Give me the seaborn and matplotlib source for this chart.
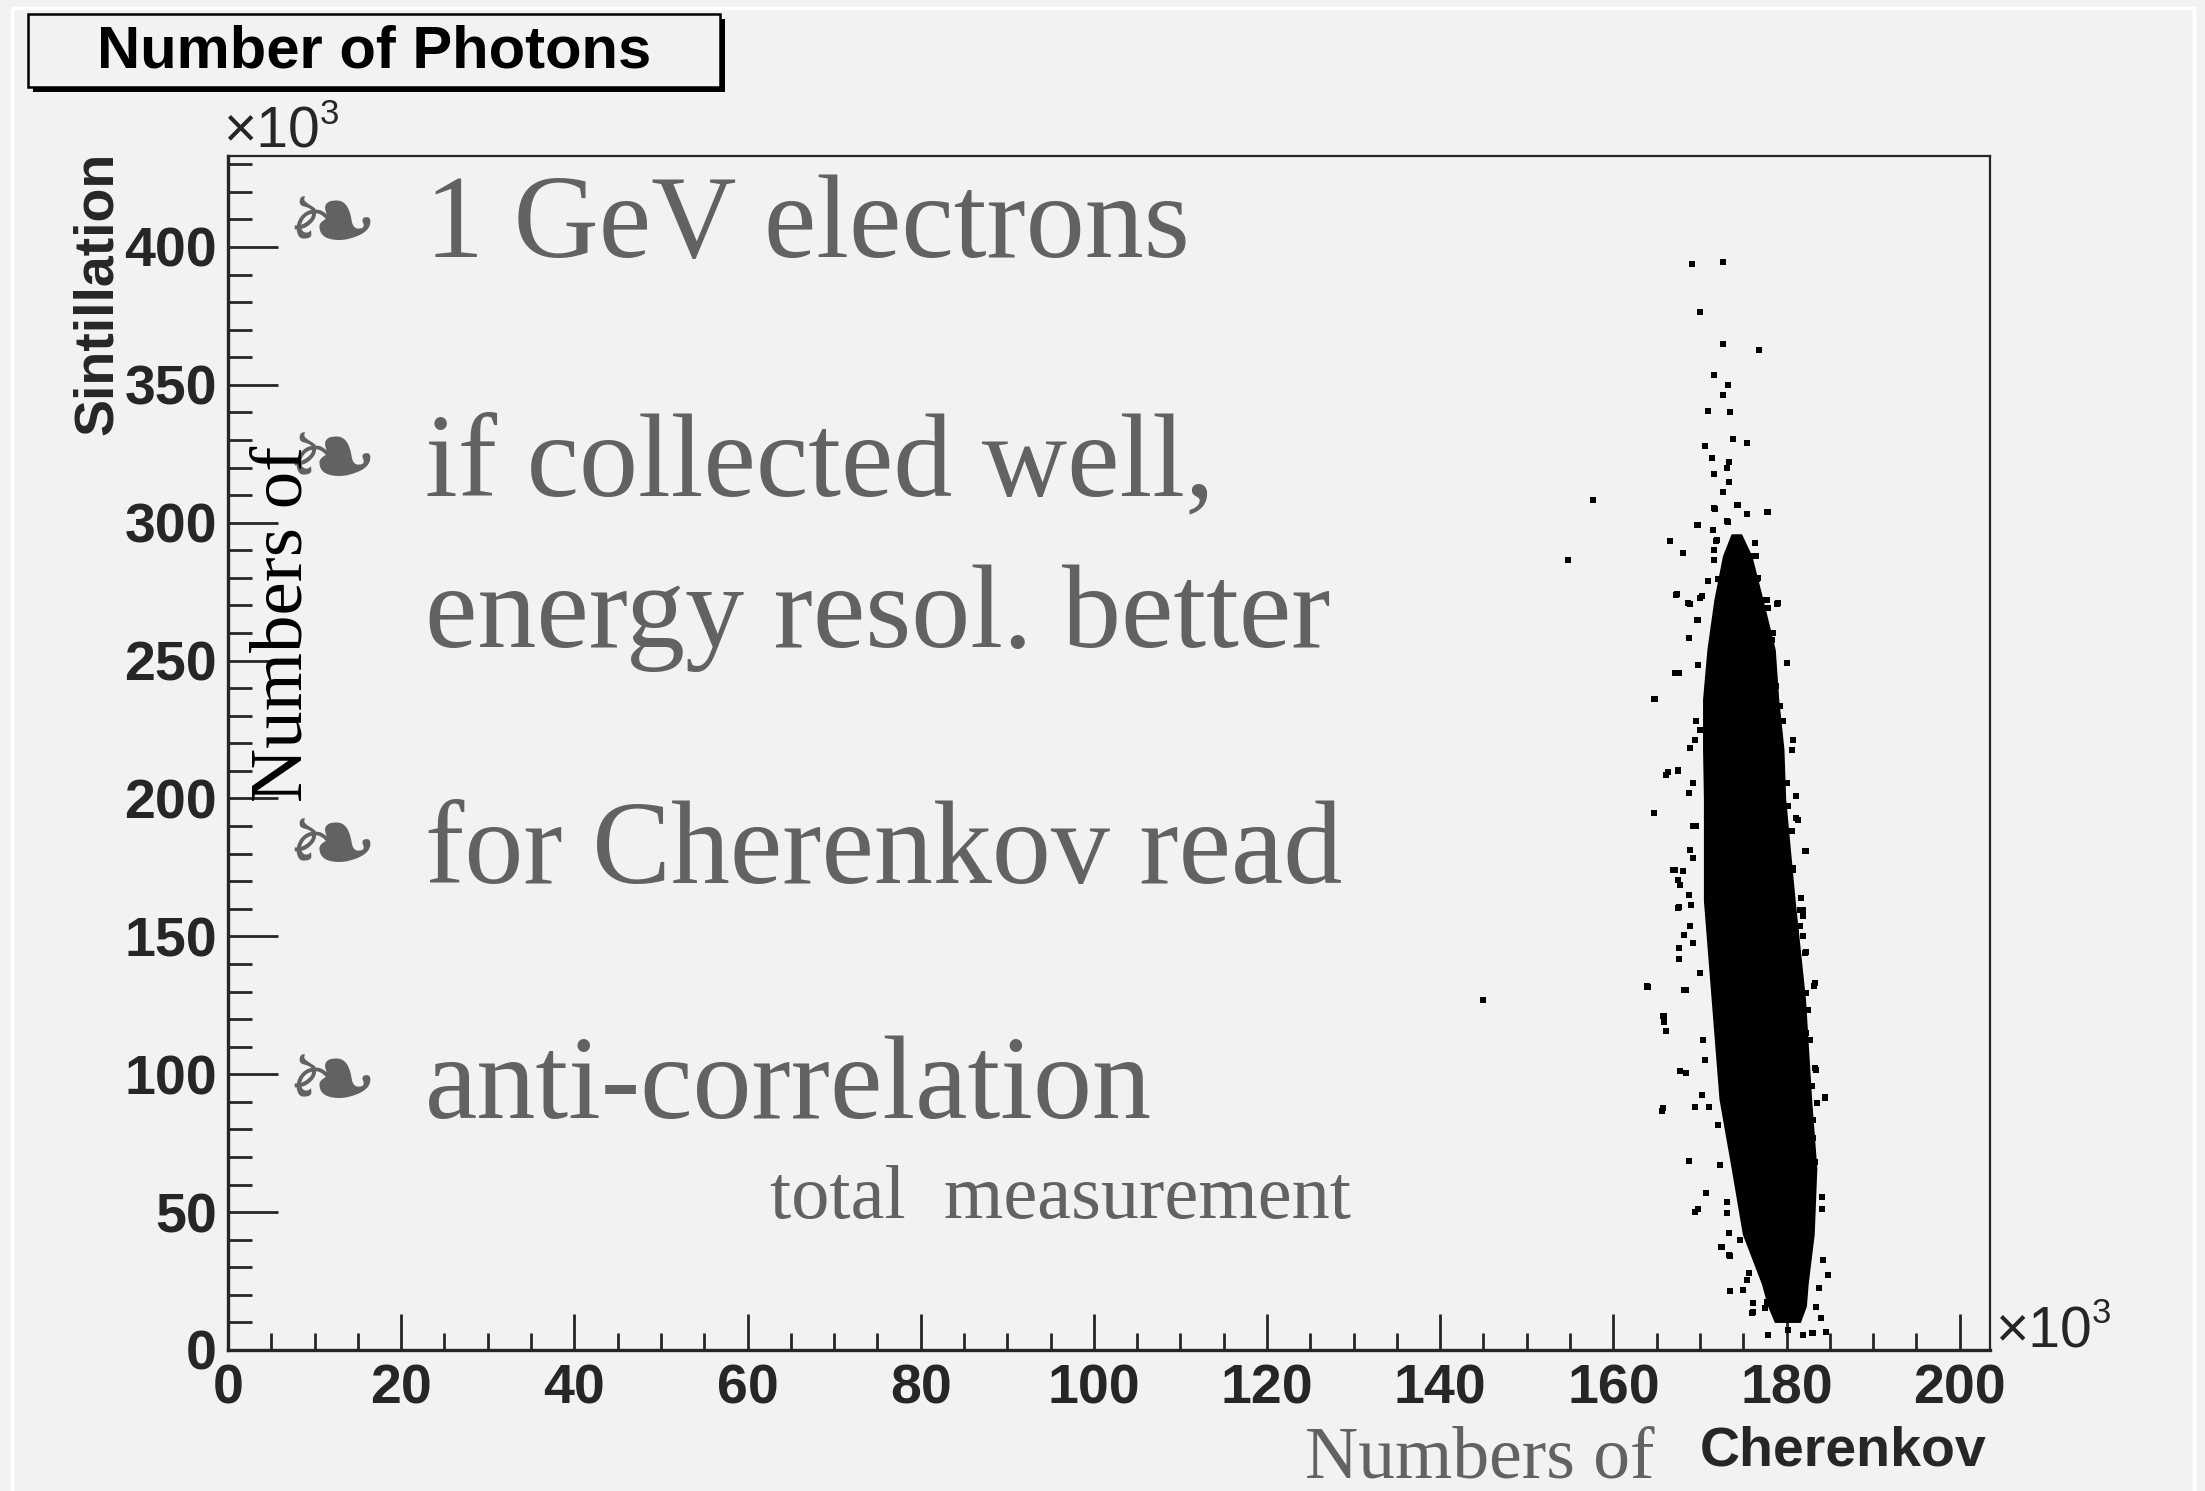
import matplotlib
matplotlib.use("Agg")
import matplotlib.pyplot as plt
import seaborn as sns
from matplotlib.patches import Rectangle
from matplotlib.lines import Line2D
from matplotlib.ticker import MultipleLocator

# ---------------------------------------------------------------- data
# photon counts per event, in units of 10^3
title = "Number of Photons"
x_title = "Cherenkov"
y_title = "Sintillation"
x_ticks = [0, 20, 40, 60, 80, 100, 120, 140, 160, 180, 200]
y_ticks = [0, 50, 100, 150, 200, 250, 300, 350, 400]
x_range = (0, 203.5)
y_range = (0, 433)

# dense core of the event distribution: sintillation level and cherenkov extent
core_sint = [10, 16, 24, 42, 66, 91, 127, 163, 200, 218, 236, 254, 272, 288, 296]
core_cher_low = [178.6, 177.8, 177.1, 174.9, 173.6, 172.2, 171.3, 170.4, 170.4,
                 170.3, 170.3, 170.8, 171.6, 172.6, 173.6]
core_cher_high = [181.6, 182.3, 182.5, 183.2, 183.5, 182.9, 182.2, 181.0, 179.9,
                  179.7, 179.1, 178.7, 177.3, 176.0, 174.8]

# individual events around the core
event_cher = [
    # upper tail and far outliers
    169.1, 172.7, 170.0, 172.7, 176.8, 171.6, 173.2, 172.7, 170.9, 173.5,
    173.8, 175.4, 170.6, 171.4, 173.4, 173.1, 171.6, 173.3, 172.7, 157.7,
    174.4, 171.6, 175.4, 177.8, 169.7, 171.5, 173.2, 166.5, 171.9, 176.4,
    168.0, 171.6, 173.5, 154.8, 171.6, 167.3, 164.8, 168.7, 169.7, 167.1,
    145.0, 163.9, 165.9, 165.6, 167.7, 169.8, 166.3,
    # upper part of the core
    174.3, 171.7, 175.4, 177.9, 169.8, 173.1, 171.5, 172.0, 176.4, 168.1,
    173.5, 176.1, 173.6, 175.7, 170.9, 172.1, 173.7, 176.6, 167.2, 172.5,
    170.2, 168.8, 175.8, 177.6, 178.9, 169.8, 177.9, 168.7, 178.4, 178.3,
    169.8, 167.6, 180.0, 177.9, 164.7, 178.8, 179.2, 179.6, 180.8, 180.6,
    168.8, 167.5, 166.1, 168.7, 181.1, 180.0, 169.4, 170.0, 169.2,
    168.6, 170.0, 177.7, 179.0, 176.5, 176.7, 175.7, 170.9, 169.6, 176.9,
    # middle of the core
    164.7, 169.6, 168.8, 169.2, 166.9, 168.0, 167.5, 167.7, 168.7, 167.6,
    169.0, 168.8, 168.2, 169.2, 167.6, 167.6, 163.9, 168.4, 170.0, 165.7,
    166.1, 168.4, 170.4, 170.6, 170.2, 180.2, 181.1, 180.6, 182.1, 180.0,
    180.8, 180.2, 181.7, 181.5, 181.9, 181.5, 181.9, 182.1, 181.3, 183.3,
    182.3, 182.5, 182.3, 182.7, 183.3, 182.9, 184.4, 180.8, 181.1,
    166.1, 167.5, 169.2, 167.1, 167.5, 164.0, 168.2, 165.8, 168.4, 169.4,
    182.2, 181.3, 180.7, 182.3, 183.2, 183.4, 184.5, 181.9,
    # lower part of the core
    165.7, 169.4, 171.1, 168.7, 170.7, 169.4, 173.1, 173.1, 172.5, 173.4,
    173.5, 175.0, 175.4, 176.1, 177.5, 177.9, 180.2, 181.9, 182.9, 184.6,
    184.0, 183.4, 183.8, 184.8, 184.2, 184.1, 184.1, 183.3, 183.1, 183.1,
    183.5, 172.3, 172.1, 173.4, 175.7, 174.6, 176.1, 183.1, 184.6,
    170.7, 172.4, 173.5, 176.0, 177.7, 179.2, 180.7,
]
event_sint = [
    393.7, 394.4, 376.3, 364.7, 362.5, 353.4, 349.8, 346.5, 340.7, 340.0,
    330.5, 329.0, 328.0, 323.6, 322.0, 320.0, 317.8, 314.6, 311.0, 308.4,
    306.6, 305.2, 303.0, 304.0, 299.3, 297.5, 300.4, 293.5, 293.5, 292.5,
    289.2, 290.0, 289.5, 286.6, 286.6, 274.0, 236.2, 258.3, 264.9, 245.6,
    127.0, 131.7, 119.0, 86.7, 101.0, 51.0, 209.7,
    306.6, 305.0, 303.0, 303.8, 299.3, 300.5, 297.3, 293.6, 292.7, 289.0,
    289.3, 287.8, 284.8, 283.2, 278.8, 279.6, 280.0, 279.7, 273.9, 275.7,
    273.3, 270.7, 273.3, 271.9, 270.7, 264.9, 269.1, 258.2, 260.0, 257.6,
    248.5, 245.5, 249.1, 245.5, 236.1, 240.7, 233.4, 228.0, 221.3, 217.7,
    218.3, 210.4, 208.6, 202.0, 201.0, 205.6, 221.3, 225.0, 205.6,
    271.0, 272.7, 272.1, 270.9, 287.8, 280.0, 283.4, 278.8, 228.0, 263.7,
    194.8, 189.9, 181.5, 178.4, 174.2, 173.6, 170.6, 168.8, 165.1, 160.7,
    161.5, 153.6, 150.6, 147.6, 145.8, 141.8, 131.9, 130.4, 136.7, 121.2,
    115.8, 100.4, 112.5, 105.3, 92.6, 197.2, 193.0, 188.1, 180.9, 182.7,
    174.2, 170.6, 163.9, 159.7, 157.3, 153.6, 150.0, 144.0, 141.5, 133.1,
    129.5, 123.4, 114.9, 112.5, 102.2, 95.6, 91.9, 131.9, 151.2,
    208.6, 209.8, 190.0, 174.0, 160.2, 131.5, 130.4, 121.3, 100.6, 88.0,
    180.8, 192.3, 174.7, 144.2, 132.0, 101.7, 91.5, 159.4,
    87.7, 88.0, 88.3, 68.7, 57.1, 50.2, 53.8, 49.6, 37.5, 34.5,
    21.5, 21.8, 25.4, 13.9, 15.1, 5.4, 7.3, 5.4, 6.0, 6.6,
    11.5, 15.7, 22.4, 27.2, 32.7, 51.0, 55.6, 68.3, 76.8, 83.4,
    89.5, 67.1, 81.6, 42.3, 27.8, 39.9, 16.9, 6.3, 6.7,
    57.1, 37.3, 34.2, 13.3, 17.4, 15.9, 11.3,
]

bullet_lines = ["1 GeV electrons", "if collected well,", "energy resol. better",
                "for Cherenkov read", "anti-correlation"]
note_line = "total  measurement"
side_words = "Numbers of"
scale_mark = "\u00d710"
scale_power = "3"
bullet_glyph = "\u2767"

# ---------------------------------------------------------------- style
W, H = 2205, 1491
BG = "#f2f2f2"
GREY_TEXT = "#626262"

sns.set_style("ticks")
plt.rcParams["font.family"] = ["Liberation Sans", "DejaVu Sans"]
plt.rcParams["font.weight"] = "bold"
plt.rcParams["figure.facecolor"] = BG
plt.rcParams["axes.facecolor"] = BG

fig = plt.figure(figsize=(W / 100, H / 100), dpi=100)


def fpos(x, y):
    """Figure fraction from pixel position measured from the top-left."""
    return x / W, 1 - y / H


ax_left, ax_right, ax_top, ax_bottom = 228, 1990, 156, 1350
ax = fig.add_axes([ax_left / W, 1 - ax_bottom / H,
                   (ax_right - ax_left) / W, (ax_bottom - ax_top) / H])

# dense core
ax.fill_betweenx(core_sint, core_cher_low, core_cher_high, color="black", lw=0, zorder=3)
# individual events
sns.scatterplot(x=event_cher, y=event_sint, marker="s", s=24, color="black",
                linewidth=0, ax=ax, zorder=4)

ax.set_xlim(*x_range)
ax.set_ylim(*y_range)
ax.set_xticks(x_ticks)
ax.set_yticks(y_ticks)
ax.xaxis.set_minor_locator(MultipleLocator(5))
ax.yaxis.set_minor_locator(MultipleLocator(10))
ax.set_xticklabels([str(v) for v in x_ticks])
ax.set_yticklabels([str(v) for v in y_ticks])
ax.tick_params(axis="both", which="both", direction="in", width=2.0,
               top=False, right=False, labelsize=40)
ax.tick_params(axis="x", which="major", length=26, pad=10)
ax.tick_params(axis="x", which="minor", length=12)
ax.tick_params(axis="y", which="major", length=36, pad=8)
ax.tick_params(axis="y", which="minor", length=17)
for lab in ax.get_xticklabels() + ax.get_yticklabels():
    lab.set_fontweight("bold")
ax.set_xlabel("")
ax.set_ylabel("")
for side in ("left", "bottom"):
    ax.spines[side].set_linewidth(2.4)
for side in ("top", "right"):
    ax.spines[side].set_linewidth(1.6)

# ---------------------------------------------------------------- canvas decorations
# canvas border
fig.add_artist(Line2D([12 / W, 12 / W], [0, 1 - 8 / H], color="white", lw=2.5))
fig.add_artist(Line2D([12 / W, 2194 / W], [1 - 8 / H, 1 - 8 / H], color="white", lw=2.5))
fig.add_artist(Line2D([2194 / W, 2194 / W], [0, 1 - 8 / H], color="white", lw=2.5))

# title box with shadow
bx0, by0, bx1, by1 = 28, 14, 720, 87
fig.add_artist(Rectangle(fpos(bx0 + 5, by1 + 5), (bx1 - bx0) / W, (by1 - by0) / H,
                         transform=fig.transFigure, facecolor="black", edgecolor="none"))
fig.add_artist(Rectangle(fpos(bx0, by1), (bx1 - bx0) / W, (by1 - by0) / H,
                         transform=fig.transFigure, facecolor=BG, edgecolor="black", lw=1.8))
fig.text(*fpos((bx0 + bx1) / 2, (by0 + by1) / 2 + 2), title, ha="center", va="center",
         fontsize=43, fontweight="bold", color="black")

# axis titles
fig.text(*fpos(112, 152), y_title, rotation=90, rotation_mode="anchor",
         ha="right", va="baseline", fontsize=40, fontweight="bold")
fig.text(*fpos(1987, 1465), x_title, ha="right", va="baseline",
         fontsize=40, fontweight="bold")

# axis scale markers
fig.text(*fpos(223, 148), scale_mark, ha="left", va="baseline", fontsize=41,
         fontweight="normal")
fig.text(*fpos(320, 124), scale_power, ha="left", va="baseline", fontsize=25,
         fontweight="normal")
fig.text(*fpos(1995, 1347), scale_mark, ha="left", va="baseline", fontsize=41,
         fontweight="normal")
fig.text(*fpos(2092, 1323), scale_power, ha="left", va="baseline", fontsize=25,
         fontweight="normal")

# ---------------------------------------------------------------- slide text overlay
serif = ["Liberation Serif", "DejaVu Serif"]
line_baselines = [257, 495, 647, 883, 1118]
for text, yb in zip(bullet_lines, line_baselines):
    fig.text(*fpos(425, yb), text, ha="left", va="baseline", fontsize=85,
             fontweight="normal", family=serif, color=GREY_TEXT)
for yc in [228, 464, 851, 1087]:
    fig.text(*fpos(332, yc), bullet_glyph, ha="center", va="center", fontsize=80,
             fontweight="normal", family=["DejaVu Sans"], color=GREY_TEXT)
fig.text(*fpos(770, 1218), note_line, ha="left", va="baseline", fontsize=55,
         fontweight="normal", family=serif, color=GREY_TEXT)

# "Numbers of" beside each axis title
fig.text(*fpos(302, 624), side_words, rotation=90, rotation_mode="anchor",
         ha="center", va="baseline", fontsize=54, fontweight="normal",
         family=serif, color="black")
fig.text(*fpos(1305, 1478), side_words, ha="left", va="baseline", fontsize=53,
         fontweight="normal", family=serif, color=GREY_TEXT)

fig.savefig("out.png", dpi=100, facecolor=BG)
